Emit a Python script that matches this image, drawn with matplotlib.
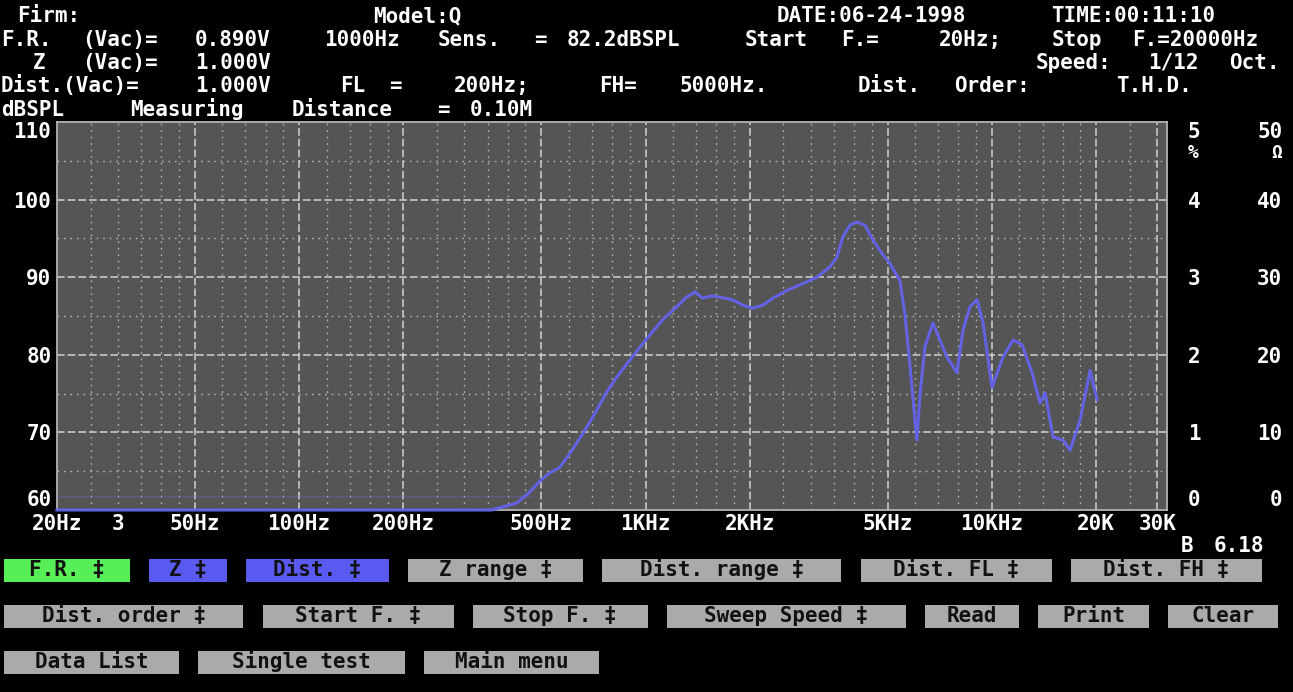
import re
import numpy as np
import matplotlib.pyplot as plt
from matplotlib.patches import Rectangle

# screen is an 80 column text grid
W, H = 1293, 692
CW = W / 80.0
FS = 15

plt.rcParams['font.family'] = ['DejaVu Sans Mono', 'DejaVu Sans']
plt.rcParams['font.weight'] = 'bold'

# frequency response curve (Hz, dBSPL)
freq = [20, 360, 425, 460, 500, 530, 565, 605, 660, 705,
        770, 825, 900, 1000, 1120, 1230, 1310, 1390, 1460, 1560,
        1780, 1910, 2030, 2180, 2330, 2560, 2920, 3120, 3400, 3570,
        3710, 3890, 4070, 4300, 4530, 4840, 5070, 5420, 5600, 5790,
        5990, 6070, 6190, 6400, 6750, 7410, 7920, 8250, 8640, 9050,
        9420, 10000, 10760, 11500, 12210, 13050, 13760, 14230, 15010, 16040,
        16800, 17960, 19200, 20100]
spl = [60.0, 60.0, 60.9, 62.2, 63.9, 64.8, 65.5, 67.3, 69.9, 72.0,
       75.1, 77.1, 79.3, 81.9, 84.5, 86.2, 87.4, 88.1, 87.3, 87.6,
       87.1, 86.4, 86.0, 86.4, 87.3, 88.3, 89.4, 90.0, 91.3, 92.6,
       95.2, 96.7, 97.1, 96.7, 94.8, 92.9, 91.8, 89.6, 85.4, 78.9,
       71.6, 69.0, 74.6, 81.0, 84.1, 79.7, 77.7, 83.2, 86.2, 87.1,
       84.1, 75.8, 79.7, 81.9, 81.3, 77.7, 73.8, 75.1, 69.4, 69.0,
       67.7, 71.6, 78.0, 74.2]

# faint second trace near the floor
ghost_freq = [20, 470]
ghost_spl = [61.8, 61.8]

x_ticks = [20, 30, 50, 100, 200, 500, 1000, 2000, 5000, 10000, 20000, 30000]
x_labels = ['20Hz', '3', '50Hz', '100Hz', '200Hz', '500Hz', '1KHz', '2KHz',
            '5KHz', '10KHz', '20K', '30K']
db_ticks = [60, 70, 80, 90, 100, 110]
pct_ticks = [0, 1, 2, 3, 4, 5]
ohm_ticks = [0, 10, 20, 30, 40, 50]

header = [
    (22, [(1, 'Firm:'), (23, 'Model:Q'), (48, 'DATE:06-24-1998'), (65, 'TIME:00:11:10')]),
    (46, [(0, 'F.R. (Vac)= 0.890V  1000Hz Sens. = 82.2dBSPL  Start F.=   20Hz;  Stop F.=20000Hz')]),
    (69, [(2, 'Z  (Vac)= 1.000V'), (64, 'Speed: 1/12 Oct.')]),
    (92, [(0, 'Dist.(Vac)= 1.000V'), (21, 'FL =   200Hz;'), (37, 'FH=  5000Hz.'),
          (53, 'Dist. Order:'), (69, 'T.H.D.')]),
    (116, [(0, 'dBSPL   Measuring Distance = 0.10M')]),
    (552, [(73, 'B 6.18')]),
]

GREEN, BLUE, GRAY = '#58ee58', '#5a5af0', '#aaaaaa'
buttons = [
    (0, 0, 'F.R. ‡', GREEN), (0, 9, 'Z ‡', BLUE), (0, 15, 'Dist. ‡', BLUE),
    (0, 25, 'Z range ‡', GRAY), (0, 37, 'Dist. range ‡', GRAY),
    (0, 53, 'Dist. FL ‡', GRAY), (0, 66, 'Dist. FH ‡', GRAY),
    (1, 0, 'Dist. order ‡', GRAY), (1, 16, 'Start F. ‡', GRAY), (1, 29, 'Stop F. ‡', GRAY),
    (1, 41, 'Sweep Speed ‡', GRAY), (1, 57, 'Read', GRAY), (1, 64, 'Print', GRAY),
    (1, 72, 'Clear', GRAY),
    (2, 0, 'Data List', GRAY), (2, 12, 'Single test', GRAY), (2, 26, 'Main menu', GRAY),
]
button_rows = [559, 605, 651]  # top pixel of each row

fig = plt.figure(figsize=(W / 100, H / 100), dpi=100, facecolor='black')


def put(base, col, s):
    # each word goes to its own column like the text screen
    for m in re.finditer(r'\S+', s):
        fig.text(((col + m.start()) * CW + 1) / W, 1 - base / H, m.group(),
                 color='white', fontsize=FS, ha='left', va='baseline')


for base, items in header:
    for col, s in items:
        put(base, col, s)

# plot area
ax = fig.add_axes([57 / W, (H - 510) / H, 1110 / W, 388 / H])
ax.set_facecolor('#555555')
ax.set_xscale('log')
ax.set_xlim(20, 32000)
ax.set_ylim(60, 110)

major_f = [50, 100, 200, 500, 1000, 2000, 5000, 10000, 20000, 30000]
minor_f = []
for d in [10, 100, 1000, 10000]:
    for m in [1.2, 1.4, 1.6, 1.8, 2.5, 3, 3.5, 4, 4.5, 6, 7, 8, 9]:
        f = m * d
        if 20 < f < 32000 and f not in major_f:
            minor_f.append(f)

ax.vlines(minor_f, 0, 1, transform=ax.get_xaxis_transform(), colors='#b4b4b4',
          linestyles=(0, (1.2, 3.5)), lw=1, zorder=1)
ax.hlines([65, 75, 85, 95, 105], 0, 1, transform=ax.get_yaxis_transform(), colors='#b4b4b4',
          linestyles=(0, (1.2, 3.5)), lw=1, zorder=1)
ax.vlines(major_f, 0, 1, transform=ax.get_xaxis_transform(), colors='#d2d2d2',
          linestyles=(0, (5, 2)), lw=1.1, zorder=1)
ax.hlines([70, 80, 90, 100], 0, 1, transform=ax.get_yaxis_transform(), colors='#d2d2d2',
          linestyles=(0, (5, 2)), lw=1.1, zorder=1)

ax.plot(ghost_freq, ghost_spl, color='#6a6ae0', lw=1, alpha=0.35, zorder=3)
ax.plot(freq, spl, color='#6262e2', lw=2.2, zorder=4, clip_on=False)

for s in ax.spines.values():
    s.set_color('#b4b4b4')
    s.set_linewidth(1.3)

ax.set_xticks(x_ticks, x_labels)
ax.xaxis.set_minor_locator(plt.NullLocator())
ax.set_yticks(db_ticks, [str(v) for v in db_ticks])
ax.tick_params(which='both', length=0, colors='white', labelsize=FS)
ax.tick_params(axis='x', pad=3)
ax.tick_params(axis='y', pad=4)
ax.get_yticklabels()[0].set_va('bottom')
ax.get_yticklabels()[-1].set_va('top')

# right hand scales: distortion % and impedance ohm
ax2 = ax.twinx()
ax2.set_ylim(0, 5)
ax2.set_yticks(pct_ticks, [str(v) for v in pct_ticks])
ax2.tick_params(length=0, colors='white', labelsize=FS, pad=15)
ax2.get_yticklabels()[0].set_va('bottom')
ax2.get_yticklabels()[-1].set_va('top')
ax2.text(1.019, 4.6, '%', transform=ax2.get_yaxis_transform(), color='white',
         fontsize=FS - 2, ha='left', va='center')

ax3 = ax.twinx()
ax3.set_ylim(0, 50)
ax3.set_yticks(ohm_ticks, [str(v) for v in ohm_ticks])
ax3.tick_params(length=0, colors='white', labelsize=FS, pad=83)
plt.setp(ax3.get_yticklabels(), ha='right')
ax3.get_yticklabels()[0].set_va('bottom')
ax3.get_yticklabels()[-1].set_va('top')
ax3.text(1.104, 46, 'Ω', transform=ax3.get_yaxis_transform(), color='white',
         fontsize=FS - 2, ha='right', va='center')

for a in (ax2, ax3):
    for s in a.spines.values():
        s.set_visible(False)

# menu buttons
for row, col, label, color in buttons:
    x0 = col * CW + 4
    x1 = (col + len(label) + 2) * CW + 1
    top = button_rows[row]
    fig.add_artist(Rectangle((x0 / W, 1 - (top + 23) / H), (x1 - x0) / W, 23 / H,
                             transform=fig.transFigure, facecolor=color, edgecolor='none'))
    fig.text((x0 + x1) / 2 / W, 1 - (top + 17.5) / H, label, color='#111111',
             fontsize=FS, ha='center', va='baseline')

plt.savefig('out.png', dpi=100, facecolor='black')
